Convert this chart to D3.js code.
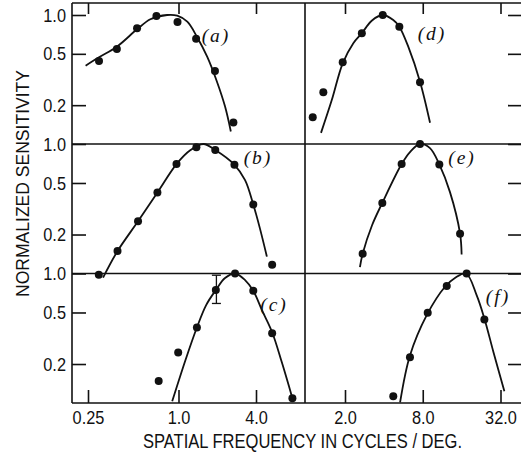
<!DOCTYPE html>
<html><head><meta charset="utf-8">
<script src="https://cdn.jsdelivr.net/npm/d3@7"></script>
<style>
html,body{margin:0;padding:0;background:#fff;}
svg{display:block;}
</style></head><body>
<svg id="chart" width="521" height="458"></svg>
<script>
// ---------- data ----------
const leftTickValues = [0.25, 1, 4];
const leftTickLabels = ["0.25", "1.0", "4.0"];
const rightTickValues = [2, 8, 32];
const rightTickLabels = ["2.0", "8.0", "32.0"];
const yTickValues = [1, 0.5, 0.2];
const yTickLabels = ["1.0", "0.5", "0.2"];
const panelNames = ["(a)", "(b)", "(c)", "(d)", "(e)", "(f)"];
const xTitle = "SPATIAL FREQUENCY IN CYCLES / DEG.";
const yTitle = "NORMALIZED SENSITIVITY";

// panel (a)
const aDotFreq = [0.296, 0.389, 0.53, 0.713, 0.985, 1.37, 1.92, 2.67];
const aDotSens = [0.44, 0.545, 0.789, 0.982, 0.883, 0.655, 0.368, 0.147];
const aCurveFreq = [0.241, 0.296, 0.389, 0.53, 0.65, 0.84, 0.98, 1.17, 1.39, 1.67, 1.99, 2.3, 2.55];
const aCurveSens = [0.405, 0.47, 0.568, 0.775, 0.926, 1.0, 0.988, 0.887, 0.679, 0.475, 0.304, 0.195, 0.125];
// panel (b)
const bDotFreq = [0.295, 0.393, 0.538, 0.724, 0.97, 1.377, 1.93, 2.72, 3.81, 5.34];
const bDotSens = [0.098, 0.149, 0.253, 0.422, 0.70, 0.943, 0.898, 0.691, 0.341, 0.117];
const bCurveFreq = [0.315, 0.393, 0.538, 0.724, 0.97, 1.24, 1.56, 1.93, 2.72, 3.29, 3.81, 4.29, 4.86];
const bCurveSens = [0.093, 0.149, 0.253, 0.422, 0.70, 0.898, 1.0, 0.898, 0.691, 0.526, 0.341, 0.223, 0.135];
// panel (c)
const cDotFreq = [0.738, 0.995, 1.39, 1.95, 2.75, 3.81, 5.34, 7.67];
const cDotSens = [0.148, 0.245, 0.383, 0.745, 1.0, 0.736, 0.346, 0.109];
const cCurveFreq = [0.908, 1.13, 1.39, 1.64, 1.95, 2.3, 2.75, 3.29, 3.81, 4.45, 5.34, 6.35, 7.67];
const cCurveSens = [0.103, 0.213, 0.383, 0.57, 0.745, 0.923, 1.0, 0.89, 0.736, 0.521, 0.352, 0.206, 0.109];
const cErrFreq = [1.97];
const cErrLow = [0.587];
const cErrHigh = [0.97];
// panel (d)
const dDotFreq = [1.125, 1.359, 1.92, 2.70, 3.92, 5.27, 7.62];
const dDotSens = [0.161, 0.252, 0.43, 0.722, 1.0, 0.812, 0.301];
const dCurveFreq = [1.304, 1.58, 1.92, 2.32, 2.70, 3.22, 3.92, 4.73, 5.27, 6.18, 7.62, 9.11];
const dCurveSens = [0.122, 0.219, 0.422, 0.604, 0.722, 0.903, 1.0, 0.915, 0.812, 0.568, 0.304, 0.146];
// panel (e)
const eDotFreq = [2.74, 3.89, 5.49, 7.62, 10.75, 15.56];
const eDotSens = [0.142, 0.351, 0.70, 1.0, 0.696, 0.203];
const eCurveFreq = [2.61, 2.74, 3.24, 3.89, 5.49, 6.37, 7.62, 9.1, 10.75, 13.0, 15.56, 16.0];
const eCurveSens = [0.112, 0.142, 0.236, 0.351, 0.70, 0.867, 1.0, 0.93, 0.696, 0.425, 0.203, 0.14];
// panel (f)
const fDotFreq = [4.73, 6.37, 8.74, 12.27, 17.5, 24.0];
const fDotSens = [0.113, 0.226, 0.497, 0.80, 1.0, 0.442];
const fCurveFreq = [5.34, 6.37, 8.59, 11.9, 14.2, 17.3, 20.9, 24.0, 28.2, 34.3];
const fCurveSens = [0.101, 0.233, 0.477, 0.79, 0.923, 1.0, 0.681, 0.45, 0.248, 0.123];

// ---------- layout ----------
const svg = d3.select("#chart");
const frameL = 72, frameR = 522, divX = 305, frameT = 3, frameB = 403;
const rows = [ {one: 15, bottom: 144}, {one: 144, bottom: 273.5}, {one: 273.5, bottom: 403} ];

const xLeft = d3.scaleLog().domain(leftTickValues).range([88, 178.5, 256]);
const xRight = d3.scaleLog().domain([2, 32]).range([345, 500.5]);
const yScales = rows.map(r => d3.scaleLog().domain([0.1, 1]).range([r.bottom, r.one]));

const ink = "#111";
const tickFont = "'Liberation Sans', Arial, sans-serif";

// frame
const g = svg.append("g");
g.append("line").attr("x1", frameL).attr("x2", frameL).attr("y1", frameT).attr("y2", frameB);
g.append("line").attr("x1", frameR).attr("x2", frameR).attr("y1", frameT).attr("y2", frameB);
g.append("line").attr("x1", divX).attr("x2", divX).attr("y1", frameT).attr("y2", frameB);
g.append("line").attr("x1", frameL).attr("x2", frameR).attr("y1", frameT).attr("y2", frameT);
g.append("line").attr("x1", frameL).attr("x2", frameR).attr("y1", frameB).attr("y2", frameB);
g.append("line").attr("x1", frameL).attr("x2", frameR).attr("y1", rows[0].bottom).attr("y2", rows[0].bottom);
g.append("line").attr("x1", frameL).attr("x2", frameR).attr("y1", rows[1].bottom).attr("y2", rows[1].bottom);
g.selectAll("line").attr("stroke", ink).attr("stroke-width", 1.6);

function styleAxis(sel, showText) {
  sel.select(".domain").remove();
  sel.selectAll(".tick line").attr("stroke", ink).attr("stroke-width", 1.6);
  sel.attr("font-family", tickFont).attr("font-size", 19);
  sel.selectAll(".tick text").attr("fill", ink).attr("transform", "scale(0.86,1)");
  if (!showText) sel.selectAll(".tick text").remove();
}

// x axes bottom (ticks pointing up) and top (ticks pointing down)
const bl = svg.append("g").attr("transform", `translate(0,${frameB})`)
  .call(d3.axisBottom(xLeft).tickValues(leftTickValues)
    .tickFormat(d => leftTickLabels[leftTickValues.indexOf(d)]).tickSize(-13).tickPadding(8));
styleAxis(bl, true);
const br = svg.append("g").attr("transform", `translate(0,${frameB})`)
  .call(d3.axisBottom(xRight).tickValues(rightTickValues)
    .tickFormat(d => rightTickLabels[rightTickValues.indexOf(d)]).tickSize(-13).tickPadding(8));
styleAxis(br, true);
const tl = svg.append("g").attr("transform", `translate(0,${frameT})`)
  .call(d3.axisTop(xLeft).tickValues(leftTickValues).tickSize(-11));
styleAxis(tl, false);
const tr = svg.append("g").attr("transform", `translate(0,${frameT})`)
  .call(d3.axisTop(xRight).tickValues(rightTickValues).tickSize(-11));
styleAxis(tr, false);

// y axes
yScales.forEach(y => {
  const la = svg.append("g").attr("transform", `translate(${frameL},0)`)
    .call(d3.axisLeft(y).tickValues(yTickValues)
      .tickFormat(d => yTickLabels[yTickValues.indexOf(d)]).tickSize(-14).tickPadding(7));
  styleAxis(la, true);
  const ra = svg.append("g").attr("transform", `translate(${frameR},0)`)
    .call(d3.axisRight(y).tickValues(yTickValues).tickSize(-14));
  styleAxis(ra, false);
});

// panels
const panels = [
  {x: xLeft, y: yScales[0], df: aDotFreq, ds: aDotSens, cf: aCurveFreq, cs: aCurveSens, name: panelNames[0], lx: 216, ly: 42},
  {x: xLeft, y: yScales[1], df: bDotFreq, ds: bDotSens, cf: bCurveFreq, cs: bCurveSens, name: panelNames[1], lx: 258, ly: 164},
  {x: xLeft, y: yScales[2], df: cDotFreq, ds: cDotSens, cf: cCurveFreq, cs: cCurveSens, name: panelNames[2], lx: 274, ly: 311},
  {x: xRight, y: yScales[0], df: dDotFreq, ds: dDotSens, cf: dCurveFreq, cs: dCurveSens, name: panelNames[3], lx: 432, ly: 40},
  {x: xRight, y: yScales[1], df: eDotFreq, ds: eDotSens, cf: eCurveFreq, cs: eCurveSens, name: panelNames[4], lx: 462, ly: 164},
  {x: xRight, y: yScales[2], df: fDotFreq, ds: fDotSens, cf: fCurveFreq, cs: fCurveSens, name: panelNames[5], lx: 498, ly: 303}
];

panels.forEach(p => {
  const pts = p.cf.map((f, i) => [f, p.cs[i]]);
  const line = d3.line().x(d => p.x(d[0])).y(d => p.y(d[1])).curve(d3.curveCatmullRom.alpha(0.5));
  svg.append("path").attr("d", line(pts)).attr("fill", "none")
    .attr("stroke", ink).attr("stroke-width", 1.8);
  svg.append("g").selectAll("circle").data(p.df.map((f, i) => [f, p.ds[i]])).join("circle")
    .attr("cx", d => p.x(d[0])).attr("cy", d => p.y(d[1])).attr("r", 4).attr("fill", ink);
  svg.append("text").attr("x", p.lx).attr("y", p.ly).attr("text-anchor", "middle")
    .attr("font-family", "'Liberation Serif', 'Times New Roman', serif").attr("font-style", "italic")
    .attr("font-size", 19.5).attr("letter-spacing", 2).attr("fill", ink).text(p.name);
});

// error bar in panel (c)
cErrFreq.forEach((f, i) => {
  const x = xLeft(f), y = yScales[2];
  const eg = svg.append("g").attr("stroke", ink).attr("stroke-width", 1.3);
  eg.append("line").attr("x1", x).attr("x2", x).attr("y1", y(cErrHigh[i])).attr("y2", y(cErrLow[i]));
  eg.append("line").attr("x1", x - 4.5).attr("x2", x + 4.5).attr("y1", y(cErrHigh[i])).attr("y2", y(cErrHigh[i]));
  eg.append("line").attr("x1", x - 4.5).attr("x2", x + 4.5).attr("y1", y(cErrLow[i])).attr("y2", y(cErrLow[i]));
});

// axis titles
svg.append("text").attr("x", 302.5).attr("y", 448).attr("text-anchor", "middle")
  .attr("font-family", tickFont).attr("font-size", 19.5).attr("fill", ink)
  .attr("textLength", 319).attr("lengthAdjust", "spacingAndGlyphs").text(xTitle);
svg.append("text").attr("transform", "translate(28.5,183.5) rotate(-90)").attr("text-anchor", "middle")
  .attr("font-family", tickFont).attr("font-size", 18.5).attr("fill", ink)
  .attr("textLength", 227).attr("lengthAdjust", "spacingAndGlyphs").text(yTitle);
</script>
</body></html>
